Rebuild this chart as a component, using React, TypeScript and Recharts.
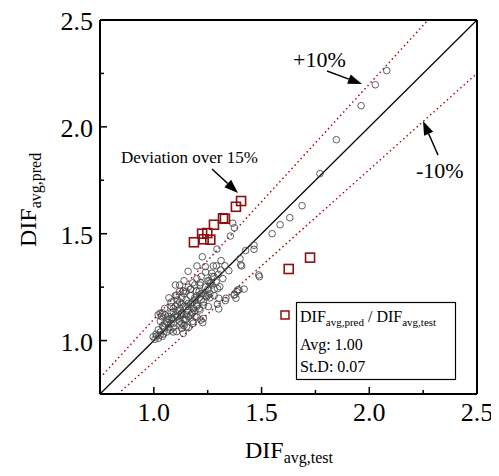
import { ScatterChart, Scatter, XAxis, YAxis, ReferenceLine } from 'recharts';

const SERIF = '"Liberation Serif", "Times New Roman", serif';

const axisMin = 0.75;
const axisMax = 2.5;
const axisTicks = [1.0, 1.25, 1.5, 1.75, 2.0, 2.25, 2.5];
const labelTicks = [1.0, 1.5, 2.0, 2.5];
const bandRatio = { upper: 1.1, lower: 0.9 };

// circles: deviation within 15%
const circleTest = [
  2.081, 2.028, 1.962, 1.847, 1.771, 1.688, 1.631, 1.586, 1.549, 1.465, 1.465, 1.426, 1.4, 1.408,
  1.487, 1.49, 1.419, 1.389, 1.375, 1.395, 1.385, 1.372, 1.366, 1.374, 1.355, 1.293, 1.312, 1.348,
  1.403, 1.225, 1.2, 1.239, 1.276, 1.159, 1.269, 1.279, 1.1, 1.216, 1.214, 1.256, 1.265, 1.289,
  1.296, 1.306, 1.301, 1.381, 1.335, 1.332, 1.295, 1.301, 1.253, 1.23, 1.219, 1.227, 1.123, 1.171,
  1.197, 1.137, 1.106, 1.081, 1.09, 1.121, 1.149, 1.16, 1.183, 1.199, 1.214, 1.23, 1.245, 1.251,
  1.029, 1.036, 1.052, 1.067, 1.083, 1.106, 1.129, 1.145, 1.16, 1.176, 1.191, 1.183, 1.152, 1.121,
  1.09, 1.06, 1.044, 1.075, 1.106, 1.137, 1.129, 0.997, 1.013, 1.029, 1.044, 1.021, 1.005, 1.05,
  1.07, 1.09, 1.11, 1.13, 1.15, 1.17, 1.19, 1.21, 1.23, 1.12, 1.14, 1.16, 1.18, 1.2, 1.22, 1.24,
  1.26, 1.28, 1.1, 1.08, 1.06, 1.04, 1.03, 1.06, 1.09, 1.13, 1.15, 1.17, 1.19, 1.21, 1.02, 1.04,
  1.03, 1.11, 1.14, 1.25, 1.27, 1.3, 1.32, 1.31, 1.29, 1.33, 1.16, 1.18, 1.2, 1.07, 1.1, 1.12,
  1.01, 1.02, 1.04, 1.05, 1.07, 1.08, 1.09, 1.1, 1.11, 1.12, 1.13, 1.14, 1.15, 1.16, 1.17, 1.18,
  1.19, 1.2, 1.21, 1.22, 1.23, 1.24, 1.25, 1.26, 1.27, 1.28, 1.09, 1.11, 1.13, 1.15, 1.17, 1.19,
  1.05, 1.08, 1.12, 1.14, 1.22, 1.24, 1.26, 1.18, 1.2, 1.14, 1.16,
];
const circlePred = [
  2.263, 2.197, 2.099, 1.94, 1.781, 1.631, 1.575, 1.542, 1.5, 1.446, 1.427, 1.421, 1.383, 1.349,
  1.307, 1.299, 1.241, 1.237, 1.215, 1.237, 1.229, 1.213, 1.549, 1.528, 1.489, 1.428, 1.374, 1.327,
  1.354, 1.392, 1.349, 1.346, 1.349, 1.324, 1.315, 1.299, 1.26, 1.271, 1.26, 1.279, 1.269, 1.276,
  1.243, 1.252, 1.198, 1.198, 1.198, 1.187, 1.17, 1.148, 1.159, 1.104, 1.096, 1.084, 1.12, 1.241,
  1.232, 1.232, 1.213, 1.159, 1.135, 1.151, 1.159, 1.174, 1.151, 1.166, 1.143, 1.166, 1.205, 1.213,
  1.128, 1.112, 1.12, 1.112, 1.104, 1.112, 1.128, 1.096, 1.112, 1.128, 1.112, 1.081, 1.065, 1.073,
  1.081, 1.088, 1.065, 1.049, 1.042, 1.034, 1.057, 1.018, 1.021, 1.026, 1.031, 1.011, 1.006, 1.08,
  1.1, 1.1, 1.14, 1.17, 1.19, 1.21, 1.2, 1.23, 1.22, 1.18, 1.16, 1.14, 1.18, 1.21, 1.19, 1.25,
  1.22, 1.24, 1.16, 1.13, 1.1, 1.07, 1.04, 1.04, 1.06, 1.08, 1.1, 1.12, 1.14, 1.15, 1.12, 1.13,
  1.09, 1.19, 1.22, 1.28, 1.3, 1.31, 1.29, 1.33, 1.35, 1.35, 1.25, 1.27, 1.29, 1.2, 1.21, 1.23,
  1.03, 1.05, 1.02, 1.06, 1.06, 1.08, 1.04, 1.12, 1.11, 1.09, 1.13, 1.1, 1.12, 1.16, 1.17, 1.13,
  1.19, 1.16, 1.2, 1.22, 1.18, 1.21, 1.24, 1.27, 1.26, 1.21, 1.15, 1.17, 1.2, 1.23, 1.24, 1.26,
  1.15, 1.18, 1.26, 1.28, 1.3, 1.32, 1.2, 1.09, 1.11, 1.07, 1.06,
];

// squares: deviation over 15%
const outlierTest = [1.405, 1.381, 1.321, 1.33, 1.279, 1.248, 1.224, 1.231, 1.262, 1.186, 1.725, 1.626];
const outlierPred = [1.653, 1.626, 1.572, 1.57, 1.542, 1.503, 1.5, 1.474, 1.472, 1.46, 1.388, 1.335];

const circleData = circleTest.map((x, i) => ({ x, y: circlePred[i] }));
const outlierData = outlierTest.map((x, i) => ({ x, y: outlierPred[i] }));

const diagonal = [
  { x: axisMin, y: axisMin },
  { x: axisMax, y: axisMax },
];
const upperBand = [
  { x: axisMin, y: axisMin * bandRatio.upper },
  { x: axisMax / bandRatio.upper, y: axisMax },
];
const lowerBand = [
  { x: axisMin / bandRatio.lower, y: axisMin },
  { x: axisMax, y: axisMax * bandRatio.lower },
];

const XTick = (props: any) => {
  const { x, y, payload } = props;
  const major = labelTicks.includes(payload.value);
  return (
    <g>
      <line x1={x} x2={x} y1={y} y2={y - (major ? 7 : 4)} stroke="#000" strokeWidth={1.5} />
      {major && (
        <text x={x} y={y + 27} textAnchor="middle" fontFamily={SERIF} fontSize={26} fill="#000">
          {payload.value.toFixed(1)}
        </text>
      )}
    </g>
  );
};

const YTick = (props: any) => {
  const { x, y, payload } = props;
  const major = labelTicks.includes(payload.value);
  return (
    <g>
      <line x1={x} x2={x + (major ? 7 : 4)} y1={y} y2={y} stroke="#000" strokeWidth={1.5} />
      {major && (
        <text x={x - 7} y={y + 10} textAnchor="end" fontFamily={SERIF} fontSize={26} fill="#000">
          {payload.value.toFixed(1)}
        </text>
      )}
    </g>
  );
};

const Circle = (p: any) => (
  <circle cx={p.cx} cy={p.cy} r={3.3} fill="none" stroke="#444" strokeOpacity={0.85} strokeWidth={1} />
);

const Square = (p: any) => (
  <rect x={p.cx - 4.5} y={p.cy - 4.5} width={9} height={9} fill="none" stroke="#8b1010" strokeWidth={1.6} />
);

const Arrow = ({ x1, y1, x2, y2 }: { x1: number; y1: number; x2: number; y2: number }) => {
  const dx = x2 - x1;
  const dy = y2 - y1;
  const len = Math.sqrt(dx * dx + dy * dy);
  const ux = dx / len;
  const uy = dy / len;
  const hl = 14;
  const hw = 5;
  const bx = x2 - ux * hl;
  const by = y2 - uy * hl;
  return (
    <g>
      <line x1={x1} y1={y1} x2={bx} y2={by} stroke="#000" strokeWidth={1.5} />
      <polygon
        points={`${x2},${y2} ${bx - uy * hw},${by + ux * hw} ${bx + uy * hw},${by - ux * hw}`}
        fill="#000"
      />
    </g>
  );
};

export default function App() {
  return (
    <div style={{ position: 'relative', width: 491, height: 468 }}>
      <ScatterChart width={491} height={468} margin={{ top: 12, right: 22, bottom: 32, left: 32 }}>
        <XAxis
          type="number"
          dataKey="x"
          domain={[axisMin, axisMax]}
          ticks={axisTicks}
          interval={0}
          allowDataOverflow
          height={50}
          tickSize={0}
          tickMargin={0}
          tickLine={false}
          tick={<XTick />}
          axisLine={{ stroke: '#000', strokeWidth: 2 }}
        />
        <YAxis
          type="number"
          dataKey="y"
          domain={[axisMin, axisMax]}
          ticks={axisTicks}
          interval={0}
          allowDataOverflow
          width={60}
          tickSize={0}
          tickMargin={0}
          tickLine={false}
          tick={<YTick />}
          axisLine={{ stroke: '#000', strokeWidth: 2 }}
        />
        <ReferenceLine y={axisMax} stroke="#000" strokeWidth={2} />
        <ReferenceLine x={axisMax} stroke="#000" strokeWidth={2} />
        <ReferenceLine segment={diagonal} stroke="#000" strokeWidth={1.2} ifOverflow="visible" />
        <ReferenceLine segment={upperBand} stroke="#a01010" strokeWidth={1.5} strokeDasharray="1.5 3" ifOverflow="visible" />
        <ReferenceLine segment={lowerBand} stroke="#a01010" strokeWidth={1.5} strokeDasharray="1.5 3" ifOverflow="visible" />
        <Scatter data={circleData} shape={Circle} isAnimationActive={false} />
        <Scatter data={outlierData} shape={Square} isAnimationActive={false} />
      </ScatterChart>
      <svg
        width={499}
        height={476}
        style={{ position: 'absolute', left: -8, top: -8, pointerEvents: 'none' }}
        fontFamily={SERIF}
      >
        <text x={293} y={67} fontSize={22}>+10%</text>
        <Arrow x1={327} y1={71} x2={362} y2={84} />
        <text x={416} y={178} fontSize={22}>-10%</text>
        <Arrow x1={438} y1={155} x2={423} y2={121} />
        <text x={121} y={163} fontSize={17}>Deviation over 15%</text>
        <Arrow x1={212} y1={169} x2={238} y2={193} />

        <rect x={281} y={311} width={8} height={8} fill="none" stroke="#8b1010" strokeWidth={1.5} />
        <rect x={296.5} y={302.5} width={159} height={77} fill="#fff" stroke="#000" strokeWidth={1.2} />
        <text x={300} y={322} fontSize={16}>
          DIF<tspan fontSize={11} dy={4}>avg,pred</tspan>
          <tspan dy={-4}> / DIF</tspan>
          <tspan fontSize={11} dy={4}>avg,test</tspan>
        </text>
        <text x={300} y={350} fontSize={16}>Avg: 1.00</text>
        <text x={300} y={372} fontSize={16}>St.D: 0.07</text>

        <text x={245} y={458} fontSize={24}>
          DIF<tspan fontSize={16} dy={5}>avg,test</tspan>
        </text>
        <text transform="translate(36,247) rotate(-90)" fontSize={24}>
          DIF<tspan fontSize={16} dy={5}>avg,pred</tspan>
        </text>
      </svg>
    </div>
  );
}
